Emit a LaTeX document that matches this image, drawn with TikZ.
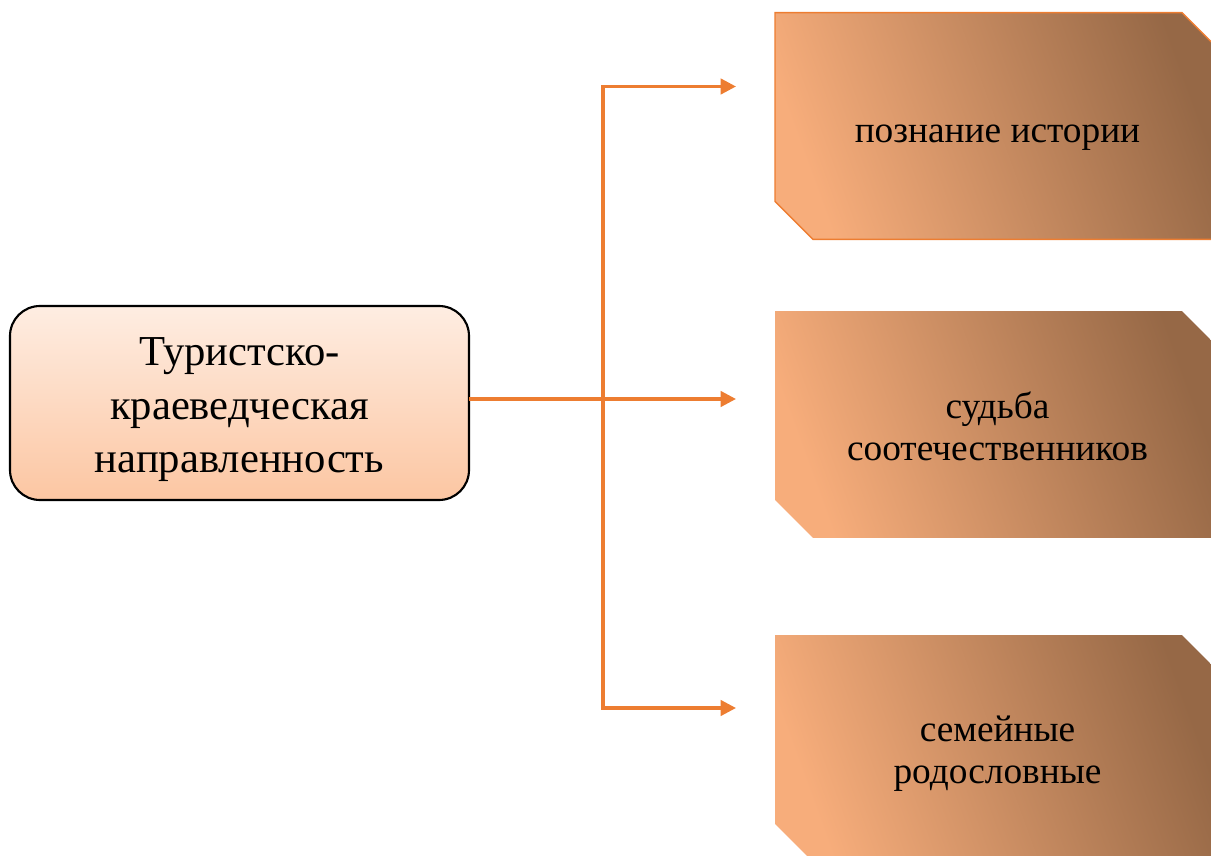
\documentclass[tikz,border=0pt]{standalone}
\usepackage{fontspec}
\setmainfont{Liberation Serif}
\usetikzlibrary{arrows.meta,backgrounds}
\definecolor{conn}{RGB}{237,125,49}
\definecolor{lighttan}{RGB}{247,173,123}
\definecolor{darktan}{RGB}{150,104,70}
\definecolor{topPeach}{RGB}{254,237,226}
\definecolor{botPeach}{RGB}{252,198,162}
\tikzset{
  px/.style={x=0.75pt,y=-0.75pt},
  mainbox/.style={rectangle, rounded corners=22.5pt, draw=black, line width=1.6pt,
    top color=topPeach, bottom color=botPeach, minimum width=344.25pt,
    minimum height=145.5pt, inner sep=0pt, outer sep=0pt},
  mainlabel/.style={align=center, inner sep=0pt, font=\fontsize{32}{40}\selectfont},
  snipframe/.style={rectangle, minimum width=333.75pt, minimum height=170pt,
    inner sep=0pt, outer sep=0pt},
  sniplabel/.style={align=center, inner sep=0pt, font=\fontsize{28}{31.5}\selectfont},
  snipfill/.style={left color=lighttan, right color=darktan, shading angle=110},
  conline/.style={draw=conn, line width=2.4pt},
  conarrow/.style={conline, -{Triangle[length=11.5pt,width=11.5pt]}}
}
\newcommand{\snipshape}[2][]{%
  \shade[snipfill,#1] (#2.north west) -- ([xshift=-28.5pt]#2.north east)
    -- ([yshift=-28.5pt]#2.north east) -- (#2.south east)
    -- ([xshift=28.5pt]#2.south west) -- ([yshift=28.5pt]#2.south west) -- cycle;}
\begin{document}
\begin{tikzpicture}[px]
\useasboundingbox (0,0) rectangle (1211,856);
\node[mainbox] (src) at (239.5,403) {};
\node[mainlabel] (srcl) at ([yshift=-5pt]src.center) {Туристско-\\краеведческая\\направленность};
\node[snipframe] (t1) at (997.5,126) {};
\node[snipframe] (t2) at (997.5,424.5) {};
\node[snipframe] (t3) at (997.5,748.5) {};
\begin{scope}[on background layer]
\snipshape[draw=conn, line width=1pt]{t1}
\snipshape{t2}
\snipshape{t3}
\end{scope}
\node[sniplabel] (t1l) at ([yshift=-9pt]t1.center) {познание истории};
\node[sniplabel] (t2l) at ([yshift=-1.5pt]t2.center) {судьба\\соотечественников};
\node[sniplabel] (t3l) at ([yshift=-3.75pt]t3.center) {семейные\\родословные};
\coordinate (j) at (603,399);
\coordinate (jt) at (603,86.5);
\coordinate (jb) at (603,708);
\coordinate (e1) at (736,86.5);
\coordinate (e2) at (736,399);
\coordinate (e3) at (736,708);
\draw[conline] (src.east |- j) -- (j);
\draw[conline, line cap=rect] (jt) -- (jb);
\draw[conarrow] (jt) -- (e1);
\draw[conarrow] (j) -- (e2);
\draw[conarrow] (jb) -- (e3);
\end{tikzpicture}
\end{document}
